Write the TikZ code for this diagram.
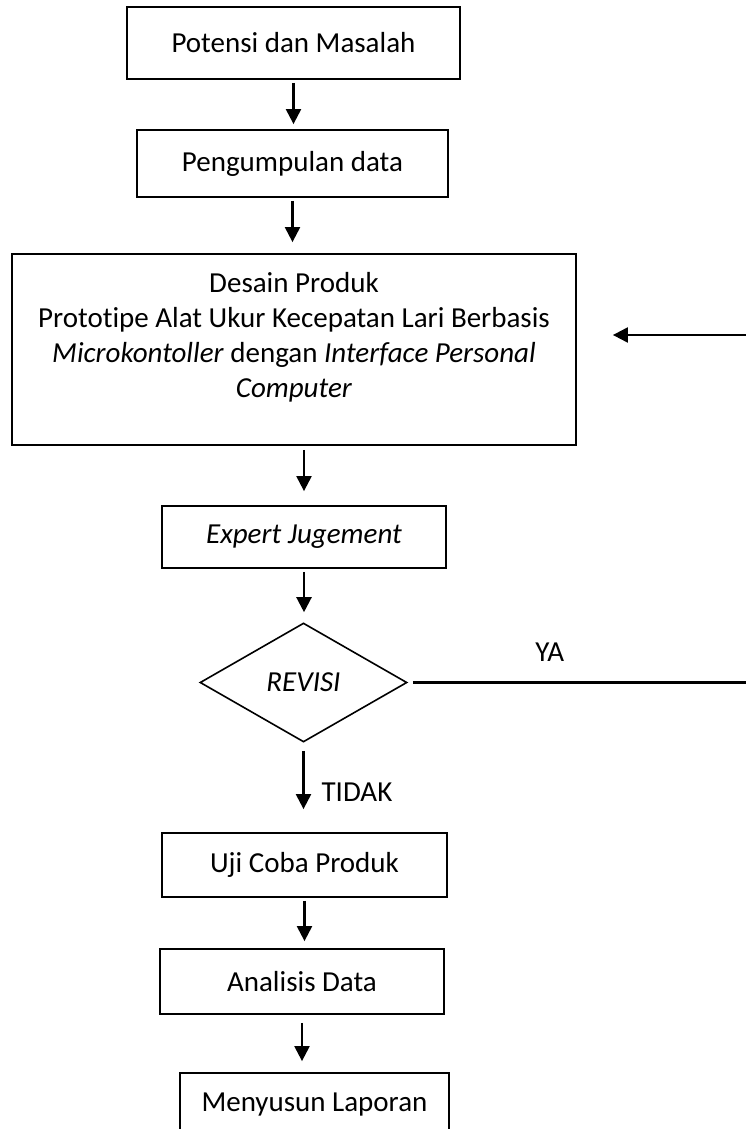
\documentclass[tikz,border=0pt]{standalone}
\usepackage{fontspec}
\setmainfont{Carlito}[Ligatures=NoCommon]
\usetikzlibrary{positioning,arrows.meta,shapes.geometric}

\begin{document}
\begin{tikzpicture}[
    x=1pt, y=1pt,
    font=\fontsize{29}{35}\selectfont,
    box/.style={rectangle, draw, line width=1.8pt, align=center, inner sep=0pt},
    decision/.style={diamond, draw, line width=1.6pt, inner sep=0pt, minimum width=207pt, minimum height=119pt},
    lbl/.style={inner sep=0pt},
    arrow/.style={-{Triangle[length=15pt,width=15pt]}, line width=2.2pt, shorten <=3pt, shorten >=6pt},
    line/.style={line width=2.2pt}
]
\useasboundingbox (0,0) rectangle (746,-1129);

% Main flow
\node[box, minimum width=333pt, minimum height=72pt] (potensi) at (293.5,-43) {Potensi dan Masalah};
\node[box, minimum width=311pt, minimum height=67pt] (pengumpulan) at (292.5,-163.5) {Pengumpulan data};
\node[box, minimum width=564pt, minimum height=191pt] (desain) at (294,-349.5) {};
\node[lbl, align=center] (desaintxt) at (294,-337.5) {Desain Produk\\Prototipe Alat Ukur Kecepatan Lari Berbasis\\\textit{Microkontoller} dengan \textit{Interface Personal}\\\textit{Computer}};
\node[box, minimum width=284pt, minimum height=62pt] (expert) at (304,-537) {\textit{Expert Jugement}};
\node[decision] (revisi) at (303.5,-682.5) {\textit{REVISI}};
\node[box, minimum width=285pt, minimum height=64pt] (ujicoba) at (304.5,-865) {Uji Coba Produk};
\node[box, minimum width=284pt, minimum height=65pt] (analisis) at (302,-981.5) {Analisis Data};
\node[box, minimum width=269pt, minimum height=64pt] (laporan) at (314.5,-1105) {Menyusun Laporan};

% Arrows down
\draw[arrow, shorten >=5pt] (potensi.south) -- (potensi.south |- pengumpulan.north);
\draw[arrow, shorten >=11pt] (pengumpulan.south) -- (pengumpulan.south |- desain.north);
\draw[arrow, shorten <=4pt, shorten >=14pt] (desain.south -| expert) -- (expert.north);
\draw[arrow, shorten >=10pt] (expert.south) -- (expert.south |- revisi.north);
\draw[arrow, shorten <=8pt, shorten >=23pt] (revisi.south) -- node[lbl, right=17pt, pos=0.55] {TIDAK} (revisi.south |- ujicoba.north);
\draw[arrow, shorten >=7pt] (ujicoba.south) -- (ujicoba.south |- analisis.north);
\draw[arrow, shorten <=8pt, shorten >=11pt] (analisis.south) -- (analisis.south |- laporan.north);

% Revision loop
\coordinate (yaend) at (746,-682.5);
\coordinate (backin) at (746,-335);
\draw[line, shorten <=5pt] (revisi.east) -- node[lbl, pos=0.42, above=20pt] {YA} (yaend);
\draw[arrow, shorten <=0pt, shorten >=36pt] (backin) -- (backin -| desain.east);

\end{tikzpicture}
\end{document}
